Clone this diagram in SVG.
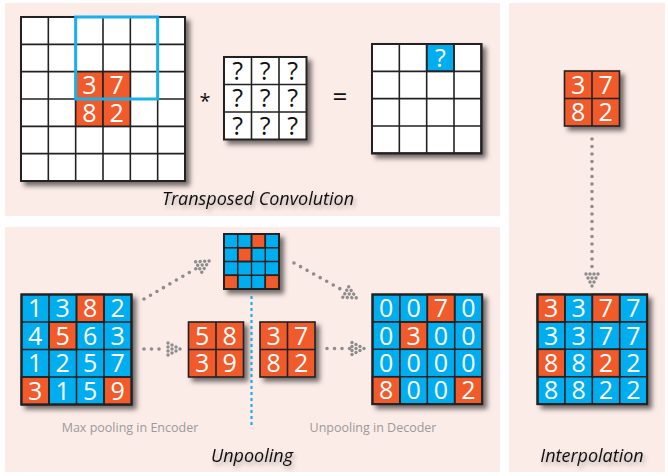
<svg xmlns="http://www.w3.org/2000/svg" width="668" height="476" viewBox="0 0 668 476">
<defs>
<filter id="sh" x="-20%" y="-20%" width="150%" height="150%">
<feDropShadow dx="4" dy="4" stdDeviation="2.5" flood-color="#000" flood-opacity="0.55"/>
</filter>
<filter id="tsh" x="-10%" y="-30%" width="130%" height="180%">
<feDropShadow dx="2" dy="3" stdDeviation="2" flood-color="#000" flood-opacity="0.3"/>
</filter>
<marker id="dh" markerUnits="userSpaceOnUse" markerWidth="20" markerHeight="20" viewBox="-2 -10 18 20" refX="0" refY="0" orient="auto">
<g fill="#8c8c8c">
<circle cx="2" cy="-6" r="1.7"/><circle cx="2" cy="-2" r="1.7"/><circle cx="2" cy="2" r="1.7"/><circle cx="2" cy="6" r="1.7"/>
<circle cx="6" cy="-4" r="1.7"/><circle cx="6" cy="0" r="1.7"/><circle cx="6" cy="4" r="1.7"/>
<circle cx="10" cy="-2" r="1.7"/><circle cx="10" cy="2" r="1.7"/>
<circle cx="14" cy="0" r="1.7"/>
</g>
</marker>
</defs>
<style>
.pan{fill:#fcece8}
.w{fill:#fff;stroke:#222;stroke-width:1.6}
.o{fill:#f15a2b;stroke:#222;stroke-width:1.6}
.b{fill:#00aeef;stroke:#222;stroke-width:1.6}
.n{font-family:"Open Sans","Liberation Sans",sans-serif;font-size:25px;fill:#fff;text-anchor:middle}
.q{font-family:"Open Sans","Liberation Sans",sans-serif;font-size:25px;fill:#111;text-anchor:middle}
.t{font-family:"Open Sans","Liberation Sans",sans-serif;font-style:italic;font-size:18px;fill:#111;text-anchor:middle}
.g{font-family:"Open Sans","Liberation Sans",sans-serif;font-size:12.5px;fill:#9a9a9a;text-anchor:middle}
.dl{fill:none;stroke:#8c8c8c;stroke-width:3.6;stroke-linecap:round;stroke-dasharray:0 7.5}
</style>

<g id="panels">
<rect class="pan" x="5" y="3" width="495" height="213"/>
<rect class="pan" x="5" y="227" width="495" height="245"/>
<rect class="pan" x="509" y="3" width="156" height="469"/>
</g>

<g id="input-grid">
<g filter="url(#sh)"><rect x="21" y="17" width="164" height="164" fill="#fff" stroke="#222" stroke-width="2"/></g>
<g fill="none" stroke="#222" stroke-width="1.6">
<path d="M48.33 17V181M75.67 17V181M103 17V181M130.33 17V181M157.67 17V181M21 44.33H185M21 71.67H185M21 99H185M21 126.33H185M21 153.67H185"/>
</g>
<rect class="o" x="75.67" y="71.67" width="27.33" height="27.33"/>
<rect class="o" x="103" y="71.67" width="27.33" height="27.33"/>
<rect class="o" x="75.67" y="99" width="27.33" height="27.33"/>
<rect class="o" x="103" y="99" width="27.33" height="27.33"/>
<text class="n" x="89.3" y="94.3">3</text><text class="n" x="116.7" y="94.3">7</text>
<text class="n" x="89.3" y="121.7">8</text><text class="n" x="116.7" y="121.7">2</text>
<rect x="75.67" y="17" width="82" height="82" fill="none" stroke="#1ab0ea" stroke-width="3"/>
</g>

<g id="op-star"><text x="205" y="108" font-family="'Open Sans','Liberation Sans',sans-serif" font-size="20" fill="#111" text-anchor="middle">*</text></g>

<g id="kernel">
<g filter="url(#sh)"><rect x="224" y="57" width="82.5" height="82.5" fill="#fff" stroke="#222" stroke-width="2"/></g>
<path d="M251.5 57V139.5M279 57V139.5M224 84.5H306.5M224 112H306.5" stroke="#222" stroke-width="1.6" fill="none"/>
<text class="q" x="237.75" y="79.5">?</text><text class="q" x="265.25" y="79.5">?</text><text class="q" x="292.75" y="79.5">?</text>
<text class="q" x="237.75" y="107">?</text><text class="q" x="265.25" y="107">?</text><text class="q" x="292.75" y="107">?</text>
<text class="q" x="237.75" y="134.5">?</text><text class="q" x="265.25" y="134.5">?</text><text class="q" x="292.75" y="134.5">?</text>
</g>

<g id="op-eq"><text x="340" y="106" font-family="'Open Sans','Liberation Sans',sans-serif" font-size="26" fill="#111" text-anchor="middle">=</text></g>

<g id="output-grid">
<g filter="url(#sh)"><rect x="372" y="44" width="109.33" height="109.33" fill="#fff" stroke="#222" stroke-width="2"/></g>
<rect class="b" x="426.67" y="44" width="27.33" height="27.33"/>
<path d="M399.33 44V153.33M426.67 44V153.33M454 44V153.33M372 71.33H481.33M372 98.67H481.33M372 126H481.33" stroke="#222" stroke-width="1.6" fill="none"/>
<rect x="372" y="44" width="109.33" height="109.33" fill="none" stroke="#222" stroke-width="2"/>
<text class="n" x="440.3" y="66.5" font-size="24">?</text>
</g>

<g id="title-tc"><text class="t" x="258" y="205" filter="url(#tsh)">Transposed Convolution</text></g>

<g id="interp-small">
<g filter="url(#sh)"><rect x="564.5" y="71" width="55" height="55" class="o" stroke-width="2"/></g>
<path d="M592 71V126M564.5 98.5H619.5" stroke="#222" stroke-width="1.6"/>
<text class="n" x="578.25" y="93.8">3</text><text class="n" x="605.75" y="93.8">7</text>
<text class="n" x="578.25" y="121.3">8</text><text class="n" x="605.75" y="121.3">2</text>
</g>

<g id="interp-big">
<g filter="url(#sh)"><rect x="537.5" y="294.5" width="109.6" height="109.6" fill="#00aeef" stroke="#222" stroke-width="2"/></g>
<rect class="o" x="537.5" y="294.5" width="27.4" height="27.4"/>
<rect class="o" x="592.3" y="294.5" width="27.4" height="27.4"/>
<rect class="o" x="537.5" y="349.3" width="27.4" height="27.4"/>
<rect class="o" x="592.3" y="349.3" width="27.4" height="27.4"/>
<path d="M564.9 294.5V404.1M592.3 294.5V404.1M619.7 294.5V404.1M537.5 321.9H647.1M537.5 349.3H647.1M537.5 376.7H647.1" stroke="#222" stroke-width="1.6" fill="none"/>
<rect x="537.5" y="294.5" width="109.6" height="109.6" fill="none" stroke="#222" stroke-width="2"/>
<text class="n" x="551.2" y="317.2">3</text><text class="n" x="578.6" y="317.2">3</text><text class="n" x="606" y="317.2">7</text><text class="n" x="633.4" y="317.2">7</text>
<text class="n" x="551.2" y="344.6">3</text><text class="n" x="578.6" y="344.6">3</text><text class="n" x="606" y="344.6">7</text><text class="n" x="633.4" y="344.6">7</text>
<text class="n" x="551.2" y="372">8</text><text class="n" x="578.6" y="372">8</text><text class="n" x="606" y="372">2</text><text class="n" x="633.4" y="372">2</text>
<text class="n" x="551.2" y="399.4">8</text><text class="n" x="578.6" y="399.4">8</text><text class="n" x="606" y="399.4">2</text><text class="n" x="633.4" y="399.4">2</text>
</g>

<g id="title-interp"><text class="t" x="592" y="462" filter="url(#tsh)">Interpolation</text></g>

<g id="encoder-grid">
<g filter="url(#sh)"><rect x="21.5" y="294.5" width="110" height="110" fill="#00aeef" stroke="#222" stroke-width="2"/></g>
<rect class="o" x="76.5" y="294.5" width="27.5" height="27.5"/>
<rect class="o" x="49" y="322" width="27.5" height="27.5"/>
<rect class="o" x="21.5" y="377" width="27.5" height="27.5"/>
<rect class="o" x="104" y="377" width="27.5" height="27.5"/>
<path d="M49 294.5V404.5M76.5 294.5V404.5M104 294.5V404.5M21.5 322H131.5M21.5 349.5H131.5M21.5 377H131.5" stroke="#222" stroke-width="1.6" fill="none"/>
<rect x="21.5" y="294.5" width="110" height="110" fill="none" stroke="#222" stroke-width="2"/>
<text class="n" x="35.25" y="317.2">1</text><text class="n" x="62.75" y="317.2">3</text><text class="n" x="90.25" y="317.2">8</text><text class="n" x="117.75" y="317.2">2</text>
<text class="n" x="35.25" y="344.7">4</text><text class="n" x="62.75" y="344.7">5</text><text class="n" x="90.25" y="344.7">6</text><text class="n" x="117.75" y="344.7">3</text>
<text class="n" x="35.25" y="372.2">1</text><text class="n" x="62.75" y="372.2">2</text><text class="n" x="90.25" y="372.2">5</text><text class="n" x="117.75" y="372.2">7</text>
<text class="n" x="35.25" y="399.7">3</text><text class="n" x="62.75" y="399.7">1</text><text class="n" x="90.25" y="399.7">5</text><text class="n" x="117.75" y="399.7">9</text>
</g>

<g id="index-grid">
<g filter="url(#sh)"><rect x="224" y="234" width="55" height="55" fill="#00aeef" stroke="#222" stroke-width="2"/></g>
<rect class="o" x="251.5" y="234" width="13.75" height="13.75"/>
<rect class="o" x="237.75" y="247.75" width="13.75" height="13.75"/>
<rect class="o" x="224" y="275.25" width="13.75" height="13.75"/>
<rect class="o" x="265.25" y="275.25" width="13.75" height="13.75"/>
<path d="M237.75 234V289M251.5 234V289M265.25 234V289M224 247.75H279M224 261.5H279M224 275.25H279" stroke="#222" stroke-width="1.4" fill="none"/>
<rect x="224" y="234" width="55" height="55" fill="none" stroke="#222" stroke-width="2"/>
</g>

<g id="pooled">
<g filter="url(#sh)"><rect x="188.5" y="322" width="55" height="55" class="o" stroke-width="2"/></g>
<path d="M216 322V377M188.5 349.5H243.5" stroke="#222" stroke-width="1.6"/>
<text class="n" x="202.25" y="344.7">5</text><text class="n" x="229.75" y="344.7">8</text>
<text class="n" x="202.25" y="372.2">3</text><text class="n" x="229.75" y="372.2">9</text>
</g>

<g id="unpool-input">
<g filter="url(#sh)"><rect x="260" y="322" width="55" height="55" class="o" stroke-width="2"/></g>
<path d="M287.5 322V377M260 349.5H315" stroke="#222" stroke-width="1.6"/>
<text class="n" x="273.75" y="344.7">3</text><text class="n" x="301.25" y="344.7">7</text>
<text class="n" x="273.75" y="372.2">8</text><text class="n" x="301.25" y="372.2">2</text>
</g>

<g id="decoder-grid">
<g filter="url(#sh)"><rect x="372.5" y="294.5" width="109.6" height="109.6" fill="#00aeef" stroke="#222" stroke-width="2"/></g>
<rect class="o" x="427.3" y="294.5" width="27.4" height="27.4"/>
<rect class="o" x="399.9" y="321.9" width="27.4" height="27.4"/>
<rect class="o" x="372.5" y="376.7" width="27.4" height="27.4"/>
<rect class="o" x="454.7" y="376.7" width="27.4" height="27.4"/>
<path d="M399.9 294.5V404.1M427.3 294.5V404.1M454.7 294.5V404.1M372.5 321.9H482.1M372.5 349.3H482.1M372.5 376.7H482.1" stroke="#222" stroke-width="1.6" fill="none"/>
<rect x="372.5" y="294.5" width="109.6" height="109.6" fill="none" stroke="#222" stroke-width="2"/>
<text class="n" x="386.2" y="317.2">0</text><text class="n" x="413.6" y="317.2">0</text><text class="n" x="441" y="317.2">7</text><text class="n" x="468.4" y="317.2">0</text>
<text class="n" x="386.2" y="344.6">0</text><text class="n" x="413.6" y="344.6">3</text><text class="n" x="441" y="344.6">0</text><text class="n" x="468.4" y="344.6">0</text>
<text class="n" x="386.2" y="372">0</text><text class="n" x="413.6" y="372">0</text><text class="n" x="441" y="372">0</text><text class="n" x="468.4" y="372">0</text>
<text class="n" x="386.2" y="399.4">8</text><text class="n" x="413.6" y="399.4">0</text><text class="n" x="441" y="399.4">0</text><text class="n" x="468.4" y="399.4">2</text>
</g>

<g id="connectors">
<path class="dl" d="M144 299L197 268" marker-end="url(#dh)"/>
<path class="dl" d="M294 263L344 291" marker-end="url(#dh)"/>
<path class="dl" d="M144 349H166" marker-end="url(#dh)"/>
<path class="dl" d="M327 348.5H350" marker-end="url(#dh)"/>
<path class="dl" d="M592 139V272" marker-end="url(#dh)"/>
<path d="M251.5 296V427" fill="none" stroke="#1ab0ea" stroke-width="2.2" stroke-dasharray="3 3"/>
</g>

<g id="labels">
<text class="g" x="130" y="432">Max pooling in Encoder</text>
<text class="g" x="373" y="432">Unpooling in Decoder</text>
<text class="t" x="252" y="462" filter="url(#tsh)">Unpooling</text>
</g>
</svg>
